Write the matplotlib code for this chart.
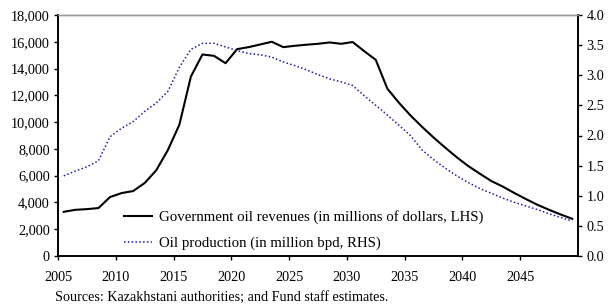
import matplotlib.pyplot as plt
import numpy as np

plt.rcParams['font.family'] = ['Liberation Serif', 'DejaVu Serif']

years = list(range(2005, 2050))

# Government oil revenues, millions of USD (LHS)
revenues = [3300, 3450, 3500, 3580, 4400, 4700, 4850, 5450, 6400, 7900,
            9800, 13400, 15050, 14950, 14400, 15450, 15600, 15800, 16000, 15600,
            15700, 15780, 15850, 15950, 15850, 15980, 15300, 14650, 12500, 11450,
            10500, 9650, 8850, 8100, 7380, 6720, 6150, 5600, 5180, 4700,
            4250, 3820, 3450, 3100, 2780]

# Oil production, million bpd (RHS)
production = [1.33, 1.41, 1.48, 1.58, 1.98, 2.12, 2.23, 2.40, 2.54, 2.73,
              3.13, 3.43, 3.53, 3.53, 3.47, 3.41, 3.36, 3.34, 3.30, 3.22,
              3.16, 3.09, 3.01, 2.94, 2.89, 2.83, 2.66, 2.50, 2.34, 2.17,
              2.00, 1.76, 1.60, 1.46, 1.33, 1.22, 1.12, 1.04, 0.96, 0.89,
              0.83, 0.77, 0.70, 0.64, 0.58]

x = np.array(years) + 0.5

fig = plt.figure(figsize=(6.16, 3.05), dpi=100)
ax = fig.add_axes([58 / 616, 49 / 305, 520 / 616, 241 / 305])
ax2 = ax.twinx()

l1, = ax.plot(x, revenues, color='black', lw=1.5,
              label='Government oil revenues (in millions of dollars, LHS)')
l2, = ax2.plot(x, production, color='#1c1ca8', lw=1.1, ls=(0, (1, 1.5)),
               label='Oil production (in million bpd, RHS)')

ax.set_xlim(2005, 2050)
ax.set_ylim(0, 18000)
ax2.set_ylim(0, 4.0)
ax.set_xticks(range(2005, 2050, 5))
ax.set_yticks(range(0, 18001, 2000))
ax.set_yticklabels([f'{v:,}' for v in range(0, 18001, 2000)])
ax2.set_yticks(np.arange(0, 4.01, 0.5))
ax2.set_yticklabels([f'{v:.1f}' for v in np.arange(0, 4.01, 0.5)])

for a in (ax, ax2):
    a.tick_params(direction='out', length=3, width=1, labelsize=10.3, pad=3)
    for s in a.spines.values():
        s.set_linewidth(1.2)
    a.spines['top'].set_color('#999999')
    a.spines['top'].set_linewidth(1)
ax.tick_params(axis='x', pad=8)

ax.legend(handles=[l1, l2], loc='upper left', bbox_to_anchor=(0.127, 0.19),
          frameon=False, fontsize=10.7, handlelength=1.9, handletextpad=0.45,
          labelspacing=0.85, borderaxespad=0, borderpad=0)

fig.text(55 / 616, 8 / 305, 'Sources: Kazakhstani authorities; and Fund staff estimates.',
         fontsize=10.2, ha='left', va='center')

fig.savefig('out.png', dpi=100)
